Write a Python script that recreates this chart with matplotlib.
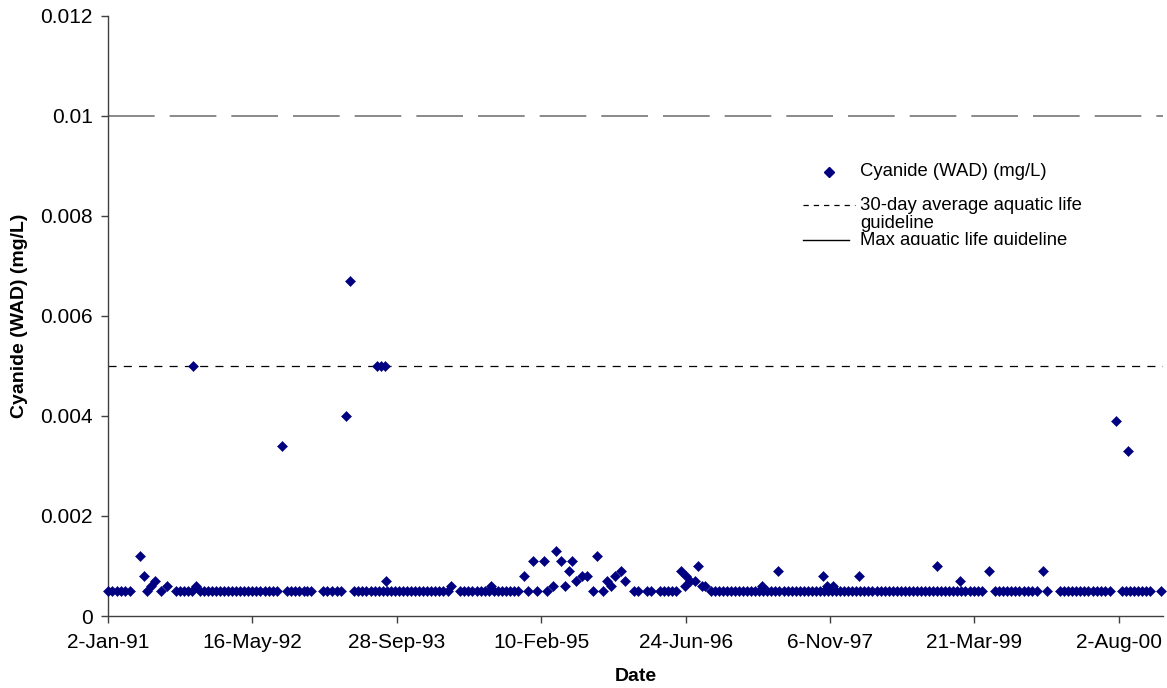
import matplotlib
matplotlib.use("Agg")
import matplotlib.pyplot as plt
import numpy as np
import pandas as pd
from matplotlib.lines import Line2D
from matplotlib.transforms import Bbox, TransformedBbox

# sampling dates are stored as days after the first sample (2-Jan-91)
start_date = "1991-01-02"

# samples reported at the detection limit
detection_limit = 0.0005
below_dl_days = [
    0, 15, 30, 45, 60, 76, 135, 184,
    235, 249, 263, 277, 290, 318, 332, 346, 360, 374, 388, 402, 416, 430,
    444, 458, 472, 486, 500, 514, 528, 542, 556, 570, 586,
    621, 635, 649, 663, 677, 690, 703,
    745, 760, 776, 792, 808,
    853, 867, 881, 895, 909, 923, 937, 951, 965, 979, 993, 1007, 1021, 1035,
    1049, 1063, 1077, 1091, 1105, 1119, 1133, 1147, 1161, 1176,
    1220, 1234, 1248, 1262, 1276, 1290, 1304, 1318, 1336, 1350, 1364, 1378,
    1392, 1405, 1418,
    1453, 1487, 1519, 1678, 1713,
    1822, 1836, 1868, 1880, 1912, 1926, 1940, 1954, 1968,
    2087, 2101, 2115, 2129, 2143, 2157, 2171, 2185, 2199, 2213, 2227, 2241,
    2255, 2269, 2283, 2297, 2311, 2325, 2339, 2353, 2367, 2381, 2395, 2409,
    2423, 2437, 2451, 2465, 2479, 2493, 2507, 2521, 2535, 2549, 2563, 2577,
    2591, 2605, 2619, 2633, 2647, 2661, 2675, 2689, 2703, 2717, 2731, 2745,
    2759, 2773, 2787, 2801, 2815, 2829, 2843, 2857, 2871, 2885, 2899, 2913,
    2927, 2941, 2955, 2969, 2983, 2997, 3011, 3027,
    3072, 3086, 3100, 3114, 3128, 3142, 3156, 3170, 3184, 3198, 3216, 3253,
    3297, 3311, 3325, 3339, 3353, 3367, 3381, 3395, 3409, 3423, 3437, 3451, 3470,
    3511, 3525, 3539, 3553, 3567, 3581, 3595, 3609, 3646,
]

# samples above the detection limit
detect_days = [
    110, 125, 149, 163, 205, 296, 304, 603, 824, 838, 932, 945, 959, 964,
    1188, 1327, 1440, 1471, 1509, 1540, 1552, 1567, 1581, 1595, 1608, 1621,
    1640, 1657, 1693, 1727, 1740, 1754, 1778, 1789,
    1985, 1997, 2003, 2014, 2031, 2043, 2056, 2066,
    2263, 2320, 2474, 2488, 2511, 2601, 2870, 2950, 3051, 3239, 3491, 3533,
]
detect_vals = [
    0.0012, 0.0008, 0.0006, 0.0007, 0.0006, 0.005, 0.0006, 0.0034, 0.004,
    0.0067, 0.005, 0.005, 0.005, 0.0007,
    0.0006, 0.0006, 0.0008, 0.0011, 0.0011, 0.0006, 0.0013, 0.0011, 0.0006,
    0.0009, 0.0011, 0.0007, 0.0008, 0.0008, 0.0012, 0.0007, 0.0006, 0.0008,
    0.0009, 0.0007,
    0.0009, 0.0006, 0.0008, 0.0007, 0.0007, 0.001, 0.0006, 0.0006,
    0.0006, 0.0009, 0.0008, 0.0006, 0.0006, 0.0008, 0.001, 0.0007, 0.0009,
    0.0009, 0.0039, 0.0033,
]

guide_30day = 0.005
guide_max = 0.01

y_ticks = [0, 0.002, 0.004, 0.006, 0.008, 0.01, 0.012]
y_tick_labels = ["0", "0.002", "0.004", "0.006", "0.008", "0.01", "0.012"]
x_tick_step_days = 500
x_end_days = 3653

series_label = "Cyanide (WAD) (mg/L)"
guide_30day_label = ["30-day average aquatic life", "guideline"]
guide_max_label = "Max aquatic life guideline"

plt.rcParams["font.family"] = ["Liberation Sans", "DejaVu Sans"]
plt.rcParams["lines.scale_dashes"] = False

navy = "#000080"
W, H = 1167, 688

fig = plt.figure(figsize=(W / 100, H / 100), dpi=100)
ax = fig.add_axes([108 / W, (H - 616) / H, (1163 - 108) / W, (616 - 15.7) / H])

t0 = pd.Timestamp(start_date)
base_dates = t0 + pd.to_timedelta(below_dl_days, unit="D")
det_dates = t0 + pd.to_timedelta(detect_days, unit="D")
all_dates = base_dates.append(det_dates)
all_vals = np.concatenate([np.full(len(below_dl_days), detection_limit), detect_vals])

ax.axhline(guide_max, color="#808080", lw=1.3, linestyle=(0, (33.6, 10.8)), zorder=1)
ax.axhline(guide_30day, color="black", lw=0.9, linestyle=(0, (5.8, 5.2)), zorder=1)
ax.plot(all_dates, all_vals, ls="none", marker="D", ms=5.2, color=navy,
        mec=navy, mew=0.4, zorder=3, clip_on=False)

ax.set_ylim(0, 0.012)
ax.set_xlim(t0, t0 + pd.Timedelta(days=x_end_days))
ax.set_yticks(y_ticks)
ax.set_yticklabels(y_tick_labels)
x_ticks = [t0 + pd.Timedelta(days=x_tick_step_days * k) for k in range(8)]
ax.set_xticks(x_ticks)
ax.set_xticklabels([f"{d.day}-{d.strftime('%b-%y')}" for d in x_ticks])

for side in ["top", "right"]:
    ax.spines[side].set_visible(False)
for side in ["left", "bottom"]:
    ax.spines[side].set_color("#404040")
    ax.spines[side].set_linewidth(1.0)
ax.tick_params(axis="both", direction="out", length=5, width=1,
               color="#404040", labelsize=15)
ax.tick_params(axis="x", pad=7)
ax.tick_params(axis="y", pad=6)

ax.set_xlabel("Date", fontsize=14, fontweight="bold", labelpad=12)
ax.set_ylabel("Cyanide (WAD) (mg/L)", fontsize=14, fontweight="bold", labelpad=9)

# legend drawn by hand to copy the cramped Excel layout
def fx(px):
    return px / W


def fy(py):
    return (H - py) / H


fs_leg = 13.3
fig.add_artist(Line2D([fx(829)], [fy(172)], marker="D", ms=5.2, color=navy,
                      mec=navy, ls="none"))
fig.text(fx(860), fy(172), series_label, fontsize=fs_leg, va="center")
fig.add_artist(Line2D([fx(803), fx(855)], [fy(205), fy(205)], color="black",
                      lw=0.9, linestyle=(0, (3.8, 3.6))))
fig.text(fx(860), fy(205), guide_30day_label[0], fontsize=fs_leg, va="center")
fig.text(fx(860), fy(223), guide_30day_label[1], fontsize=fs_leg, va="center")
fig.add_artist(Line2D([fx(803), fx(849)], [fy(240), fy(240)], color="black", lw=1.0))
t = fig.text(fx(860), fy(241), guide_max_label, fontsize=fs_leg, va="center")
clip = TransformedBbox(Bbox([[fx(780), fy(245)], [fx(1160), fy(150)]]), fig.transFigure)
t.set_clip_box(clip)
t.set_clip_on(True)

fig.savefig("out.png", dpi=100)
